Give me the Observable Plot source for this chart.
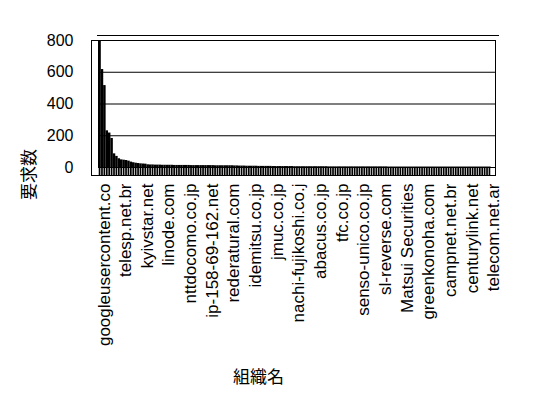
<!DOCTYPE html>
<html><head><meta charset="utf-8">
<script src="https://cdn.jsdelivr.net/npm/d3@7"></script>
<script src="https://cdn.jsdelivr.net/npm/@observablehq/plot@0.6"></script>
<style>body{margin:0;background:#fff}</style>
</head><body><div id="chart"></div>
<script>
const orgLabels = ["googleusercontent.co","telesp.net.br","kyivstar.net","linode.com","nttdocomo.co.jp","ip-158-69-162.net","rederatural.com","idemitsu.co.jp","jmuc.co.jp","nachi-fujikoshi.co.j","abacus.co.jp","tfc.co.jp","senso-unico.co.jp","sl-reverse.com","Matsui Securities","greenkonoha.com","campnet.net.br","centurylink.net","telecom.net.ar"];
const labelStep = 9;
const requests = [
  800,617,516,231,217,183,86,70,55,48,46,44,40,34,30,27,25,23,22,21,
  17,16,16,15,15,15,14,14,14,14,14,13,13,13,13,13,13,13,12,12,
  12,12,12,12,12,12,12,12,11,11,11,11,11,11,11,11,10,10,
  9,9,9,8,8,8,8,8,7,7,
  7,7,7,7,6,6,6,6,6,6,
  6,6,6,5,5,5,5,5,5,5,
  5,5,5,5,5,5,5,4,4,4,
  4,4,4,4,4,4,4,4,4,4,
  4,4,4,4,4,4,4,4,4,4,
  4,4,3,3,3,3,3,3,3,3,
  3,3,3,3,3,3,3,3,3,3,
  3,3,3,3,3,3,3,3,3,3,
  3,3,3,3,3,3,3,3,3,3,
  3,3,3,3,3
];
const yTicks = [0,200,400,600,800];
const yTitle = "要求数";
const xTitle = "組織名";

const data = requests.map((v, i) => ({i, v}));
const tickIdx = orgLabels.map((_, k) => k * labelStep);
const font = "'Liberation Sans', Arial, sans-serif";
const cjk = "'Noto Sans CJK JP', sans-serif";

const chart = Plot.plot({
  width: 548, height: 398,
  marginLeft: 91, marginRight: 53, marginTop: 40, marginBottom: 223,
  style: {fontFamily: font, background: "#fff", color: "#000", overflow: "visible"},
  x: {type: "band", domain: d3.range(requests.length), padding: 0.3, insetLeft: 7, insetRight: 4, axis: null},
  y: {domain: [0, 800], insetBottom: 8, axis: null},
  marks: [
    Plot.ruleY(yTicks, {stroke: "#000", strokeWidth: 1.2, insetLeft: 7}),
    Plot.frame({anchor: "left", dx: 7, insetBottom: 8, stroke: "#000"}),
    Plot.frame({anchor: "top", dx: 6, dy: -5, insetRight: 3, stroke: "#000"}),
    Plot.barY(data, {x: "i", y: "v", fill: "#000", insetLeft: -0.4, insetRight: -0.4}),
    Plot.barY(data, {x: "i", y1: 0, y2: 0, insetBottom: -8, fill: "#000"}),
    Plot.frame({stroke: "#000"}),
    Plot.axisY(yTicks, {tickSize: 0, tickPadding: 18, fontSize: 16, label: null}),
    Plot.axisX(tickIdx, {tickSize: 0, tickPadding: 8, tickRotate: -90, tickFormat: i => orgLabels[i / labelStep], fontSize: 17, dx: 4, label: null}),
    Plot.text([yTitle], {frameAnchor: "left", rotate: -90, dx: -62, dy: 92, fontSize: 17, fontFamily: cjk}),
    Plot.text([xTitle], {frameAnchor: "bottom", dx: -35, dy: 207, fontSize: 17, fontFamily: cjk})
  ]
});
document.getElementById("chart").appendChild(chart);
</script>
</body></html>
